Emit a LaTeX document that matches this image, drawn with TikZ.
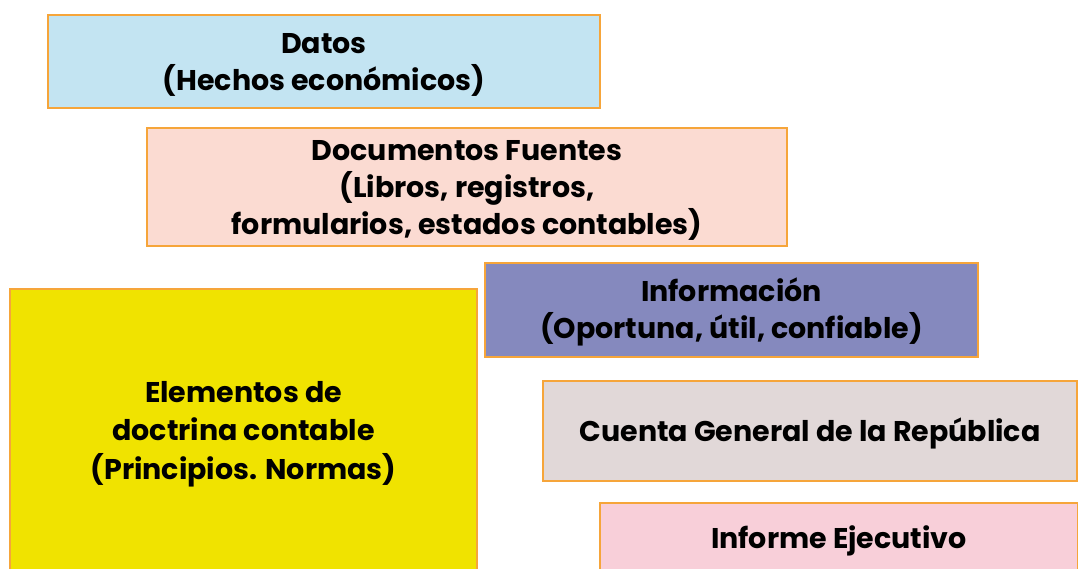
\documentclass[tikz,border=0pt]{standalone}
\usepackage{fontspec}
\setmainfont{Poppins}
\usetikzlibrary{positioning}
\definecolor{bordeNaranja}{HTML}{F6A53A}
\definecolor{azulDatos}{HTML}{C3E4F2}
\definecolor{rosaFuentes}{HTML}{FBDBD2}
\definecolor{moradoInfo}{HTML}{8589BE}
\definecolor{amarilloDoctrina}{HTML}{F0E300}
\definecolor{grisCuenta}{HTML}{E1D8D8}
\definecolor{rosaInforme}{HTML}{F8CFD9}
\newcommand{\textocaja}[1]{\raisebox{-3pt}[\height][\depth]{\begin{tabular}{@{}c@{}}#1\end{tabular}}}

\begin{document}
\begin{tikzpicture}[x=1pt, y=1pt,
    caja/.style={draw=bordeNaranja, line width=1.8pt, inner sep=0pt,
        font=\bfseries\fontsize{28.5}{36}\selectfont}]
    \useasboundingbox (0,0) rectangle (1078,569);

    % Datos
    \node[caja, fill=azulDatos, minimum width=552pt, minimum height=93pt] (datos) at (324,507.5)
        {\textocaja{Datos\\(Hechos económicos)}};

    % Documentos fuentes
    \node[caja, fill=rosaFuentes, minimum width=640pt, minimum height=118pt] (fuentes) at (467,382)
        {\textocaja{Documentos Fuentes\\(Libros, registros,\\formularios, estados contables)}};

    % Informacion
    \node[caja, fill=moradoInfo, minimum width=493pt, minimum height=94pt] (info) at (731.5,259)
        {\textocaja{Información\\(Oportuna, útil, confiable)}};

    % Elementos de doctrina
    \node[caja, fill=amarilloDoctrina, minimum width=467pt, minimum height=284pt] (doctrina) at (243.5,138)
        {\textocaja{Elementos de\\[2pt]doctrina contable\\[2pt](Principios. Normas)}};

    % Cuenta general
    \node[caja, fill=grisCuenta, minimum width=534pt, minimum height=100pt] (cuenta) at (810,138)
        {\textocaja{Cuenta General de la República}};

    % Informe ejecutivo
    \node[caja, fill=rosaInforme, minimum width=478pt, minimum height=70pt] (informe) at (839,31)
        {\textocaja{Informe Ejecutivo}};
\end{tikzpicture}
\end{document}
